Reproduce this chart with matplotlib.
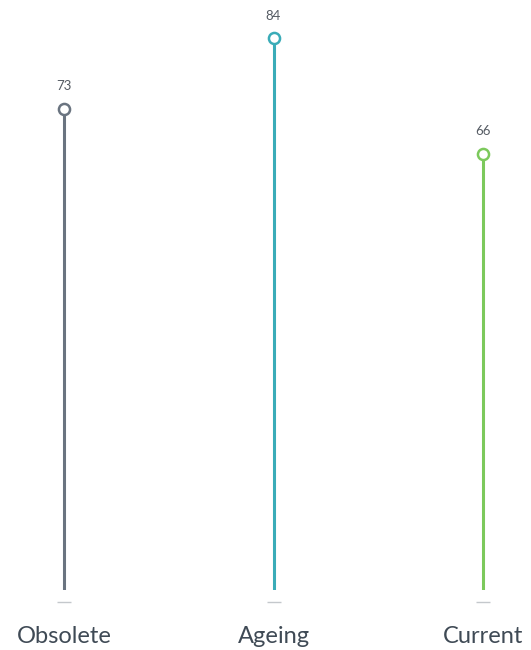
import matplotlib
matplotlib.use("Agg")
import matplotlib.pyplot as plt

categories = ["Obsolete", "Ageing", "Current"]
values = [73, 84, 66]
colors = ["#6a7480", "#3aacb8", "#7cc95c"]

fig = plt.figure(figsize=(5.31, 6.5), dpi=100)
ax = fig.add_axes([0, 0.0923, 1, 0.9077])
ax.set_xlim(-0.3055, 2.229)
ax.set_ylim(-2.19, 90)
base = ax.get_ylim()[0]

xs = list(range(len(categories)))
for x, v, c, name in zip(xs, values, colors, categories):
    ax.vlines(x, base, v, color=c, linewidth=2.2, zorder=2)
    ax.plot(x, v, marker="o", markersize=8, markerfacecolor="white",
            markeredgecolor=c, markeredgewidth=1.8, zorder=3)
    ax.annotate(str(v), (x, v), xytext=(0, 12), textcoords="offset points",
                ha="center", va="bottom", fontsize=9.5, color="#555b63",
                family="Lato")
    # small grey dash under each stem
    ax.plot(x, -0.0205, marker="_", markersize=10, markeredgewidth=1,
            color="#c4c8cc", transform=ax.get_xaxis_transform(), clip_on=False)
    ax.text(x, -0.079, name, transform=ax.get_xaxis_transform(),
            ha="center", va="center", fontsize=17, color="#3f4a55",
            family="Lato")

ax.axis("off")
fig.savefig("out.png", dpi=100)
